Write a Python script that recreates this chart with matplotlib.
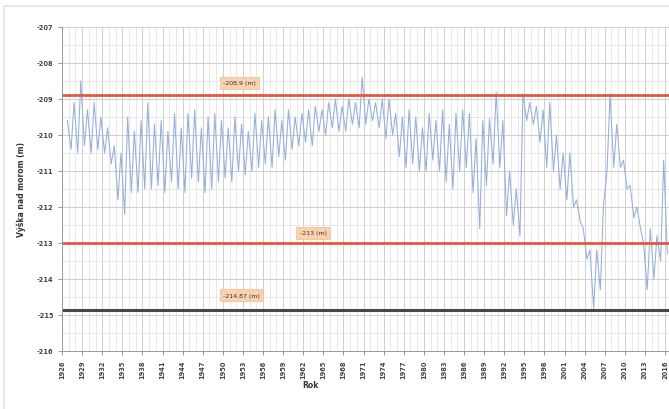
import matplotlib.pyplot as plt
from matplotlib.patches import Rectangle

# yearly spring maximum / autumn minimum of the lake level (m)
years = list(range(1926, 2016))
spring_peak = [
    -209.6, -209.1, -208.5, -209.3, -209.1, -209.5, -209.8, -210.3, -210.5, -209.5,
    -209.9, -209.6, -209.1, -209.7, -209.6, -209.9, -209.4, -209.8, -209.4, -209.3,
    -209.8, -209.5, -209.4, -209.6, -209.8, -209.5, -209.7, -209.9, -209.4, -209.6,
    -209.5, -209.3, -209.6, -209.3, -209.5, -209.4, -209.3, -209.2, -209.3, -209.1,
    -209.0, -209.2, -209.0, -209.1, -208.4, -209.0, -209.1, -209.0, -209.0, -209.4,
    -209.5, -209.3, -209.5, -209.8, -209.4, -209.6, -209.3, -209.7, -209.4, -209.3,
    -209.4, -210.1, -209.6, -209.55, -208.8, -209.6, -211.0, -211.5, -208.86, -209.1,
    -209.2, -209.3, -209.1, -210.0, -210.5, -210.5, -211.8, -212.6, -213.2, -213.2,
    -212.0, -208.86, -209.7, -210.7, -211.4, -212.0, -213.0, -212.6, -212.8, -210.7,
]
autumn_low = [
    -210.4, -210.5, -210.3, -210.5, -210.4, -210.5, -210.8, -211.8, -212.2, -211.6,
    -211.6, -211.5, -211.5, -211.4, -211.6, -211.3, -211.5, -211.6, -211.2, -211.3,
    -211.6, -211.5, -211.3, -211.2, -211.3, -211.0, -211.1, -211.0, -210.9, -210.8,
    -210.9, -210.6, -210.7, -210.4, -210.3, -210.2, -210.3, -209.9, -210.0, -209.8,
    -209.9, -209.9, -209.7, -209.8, -209.7, -209.6, -209.8, -210.1, -210.0, -210.6,
    -210.9, -210.8, -211.0, -211.0, -210.7, -211.0, -211.3, -211.5, -211.0, -210.9,
    -211.6, -212.6, -211.4, -210.8, -210.9, -212.25, -212.5, -212.8, -209.6, -209.7,
    -210.2, -210.9, -211.0, -211.5, -211.8, -212.0, -212.4, -213.45, -214.83, -214.3,
    -211.0, -210.9, -210.9, -211.5, -212.3, -212.6, -214.3, -214.0, -213.5, -213.3,
]

upper_red = -208.9
lower_red = -213.0
black_line = -214.87
line_labels = ["-208.9 (m)", "-213 (m)", "-214.87 (m)"]

x_ticks = list(range(1926, 2017, 3))
y_ticks = list(range(-216, -206))

t, level = [], []
for y, hi, lo in zip(years, spring_peak, autumn_low):
    t += [y + 0.8, y + 1.35]
    level += [hi, lo]

fig = plt.figure(figsize=(6.69, 4.10), dpi=100)
fig.patches.append(Rectangle((0.006, -0.1), 1.1, 1.083, transform=fig.transFigure,
                             fill=False, edgecolor="#e4e4e4", linewidth=1.2))
ax = fig.add_axes([62 / 669, 1 - 352 / 410, 1 - 62 / 669, (352 - 28) / 410])

ax.set_xlim(1926, 1926 + 607 / 6.7)
ax.set_ylim(-216, -207)

ax.set_xticks(x_ticks)
ax.set_xticks(range(1926, 2017), minor=True)
ax.set_yticks(y_ticks)
ax.set_yticks([v + 0.5 for v in y_ticks[:-1]], minor=True)
ax.grid(True, which="major", color="#c8c8c8", linewidth=0.6)
ax.grid(True, which="minor", color="#dedede", linewidth=0.5)
ax.set_axisbelow(True)

ax.plot(t, level, color="#94afdb", linewidth=0.75)

ax.axhline(upper_red, color="#e8563f", linewidth=2)
ax.axhline(lower_red, color="#e8563f", linewidth=2)
ax.axhline(black_line, color="#474747", linewidth=2.2)

box = dict(boxstyle="square,pad=0.55", facecolor="#fad2b0", edgecolor="#f3c29a", linewidth=0.6)
for (xv, yv), txt in zip([(1952.5, -208.55), (1963.5, -212.72), (1952.8, -214.45)], line_labels):
    ax.text(xv, yv, txt, fontsize=4.5, ha="center", va="center", bbox=box, color="#333333")

ax.set_xticklabels([str(v) for v in x_ticks], rotation=90, fontsize=4.8,
                   fontweight="bold", color="#444444")
ax.set_yticklabels([str(v) for v in y_ticks], fontsize=4.8, fontweight="bold", color="#444444")
ax.tick_params(axis="both", which="major", length=3, width=0.6, color="#888888", pad=3)
ax.tick_params(axis="both", which="minor", length=0)

for side in ["top", "right"]:
    ax.spines[side].set_visible(False)
for side in ["left", "bottom"]:
    ax.spines[side].set_color("#999999")
    ax.spines[side].set_linewidth(0.7)

ax.set_ylabel("Výška nad morom (m)", fontsize=5.5, fontweight="bold", color="#333333", labelpad=8)
fig.text(310 / 669, 1 - 386 / 410, "Rok", fontsize=5.5, fontweight="bold",
         color="#333333", ha="center", va="center")

fig.savefig("out.png", dpi=100)
